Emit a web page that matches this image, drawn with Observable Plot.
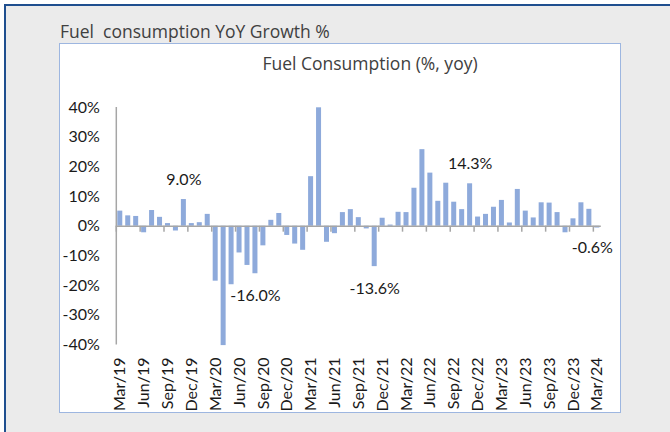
<!DOCTYPE html>
<html>
<head>
<meta charset="utf-8">
<script src="https://cdn.jsdelivr.net/npm/d3@7"></script>
<script src="https://cdn.jsdelivr.net/npm/@observablehq/plot@0.6"></script>
<style>
  html, body { margin: 0; padding: 0; }
  body { width: 670px; height: 432px; position: relative; overflow: hidden; background: #ffffff; font-family: Lato, "Noto Sans", sans-serif; }
  #outer { position: absolute; left: 4px; top: 3.5px; width: 700px; height: 460px; background: #ebebeb; border-left: 2.5px solid #1f4f8f; border-top: 2.5px solid #1f4f8f; }
  #panel { position: absolute; left: 59px; top: 43px; width: 560px; height: 368px; background: #ffffff; border: 1.5px solid #9db6e0; }
  #title { position: absolute; left: 60px; top: 20px; font-family: "Open Sans", Lato, sans-serif; font-size: 17.5px; line-height: 22px; color: #404040; white-space: pre; font-variant-ligatures: none; }
  #subtitle { position: absolute; left: 370px; top: 52px; transform: translateX(-50%); font-family: "Open Sans", Lato, sans-serif; font-size: 17.5px; line-height: 22px; color: #404040; white-space: pre; font-variant-ligatures: none; }
  #chart { position: absolute; left: 0; top: 0; }
</style>
</head>
<body>
<div id="outer"></div>
<div id="panel"></div>
<div id="title">Fuel  consumption YoY Growth %</div>
<div id="subtitle">Fuel Consumption (%, yoy)</div>
<div id="chart"></div>
<script>
// Months Mar/19 .. Mar/24
const months = [
  "Mar/19","Apr/19","May/19","Jun/19","Jul/19","Aug/19","Sep/19","Oct/19","Nov/19","Dec/19",
  "Jan/20","Feb/20","Mar/20","Apr/20","May/20","Jun/20","Jul/20","Aug/20","Sep/20","Oct/20","Nov/20","Dec/20",
  "Jan/21","Feb/21","Mar/21","Apr/21","May/21","Jun/21","Jul/21","Aug/21","Sep/21","Oct/21","Nov/21","Dec/21",
  "Jan/22","Feb/22","Mar/22","Apr/22","May/22","Jun/22","Jul/22","Aug/22","Sep/22","Oct/22","Nov/22","Dec/22",
  "Jan/23","Feb/23","Mar/23","Apr/23","May/23","Jun/23","Jul/23","Aug/23","Sep/23","Oct/23","Nov/23","Dec/23",
  "Jan/24","Feb/24","Mar/24"
];
// YoY growth, %
const growth = [
  5.1, 3.5, 3.3, -2.2, 5.3, 3.0, 0.9, -1.6, 9.0, 0.9,
  1.2, 4.0, -18.5, -40.2, -19.7, -9.0, -13.2, -16.0, -6.6, 2.0, 4.3, -3.1,
  -6.0, -8.1, 16.7, 39.9, -5.4, -2.5, 4.6, 5.6, 2.9, -0.9, -13.6, 2.7,
  0.4, 4.7, 4.6, 12.8, 25.8, 17.9, 8.4, 14.5, 8.1, 5.6, 14.3, 3.1,
  4.0, 6.4, 8.7, 1.1, 12.4, 5.1, 2.8, 7.9, 7.8, 4.6, -2.2, 2.5,
  7.9, 5.7, -0.6
];
// Labelled points
const labelMonths = ["Nov/19", "Aug/20", "Nov/21", "Nov/22", "Mar/24"];
const labelTexts = ["9.0%", "-16.0%", "-13.6%", "14.3%", "-0.6%"];
// Axis ticks
const yTicks = [-40, -30, -20, -10, 0, 10, 20, 30, 40];
const xTicks = months.filter((d, i) => i % 3 === 0);

const data = months.map((m, i) => ({month: m, value: growth[i]}));
const labels = labelMonths.map((m, i) => ({month: m, value: growth[months.indexOf(m)], text: labelTexts[i]}));

const W = 670, H = 432;
const mL = 115.8, mR = 69.2, mT = 107, mB = 87.5;
const step = (W - mL - mR) / months.length;
const axisColor = "#a6a6a6";
const textColor = "#1a1a1a";

const chart = Plot.plot({
  width: W,
  height: H,
  marginLeft: mL,
  marginRight: mR,
  marginTop: mT,
  marginBottom: mB,
  style: {background: "transparent", fontFamily: "Lato, 'Noto Sans', sans-serif", fontSize: "16px", color: textColor, overflow: "visible"},
  x: {type: "band", domain: months, paddingInner: 0.37, paddingOuter: 0.185, axis: null},
  y: {domain: [-40, 40], axis: null},
  marks: [
    Plot.barY(data, {x: "month", y: "value", fill: "#8eaadb"}),
    Plot.ruleY([0], {stroke: axisColor, strokeWidth: 1.5}),
    Plot.ruleX([months[0]], {x: d => d, y1: -40, y2: 40, dx: -step / 2, stroke: axisColor, strokeWidth: 1.5}),
    Plot.ruleX(xTicks, {x: d => d, y1: 0, y2: -2, dx: -step / 2, stroke: axisColor, strokeWidth: 1.5}),
    Plot.axisY({ticks: yTicks, tickFormat: d => d + "%", tickSize: 0, tickPadding: 16.5, label: null, fontSize: 16, fill: textColor}),
    Plot.axisX({ticks: xTicks, tickRotate: -90, tickSize: 0, tickPadding: 12.5, label: null, fontSize: 16, fill: textColor}),
    Plot.text(labels.filter(d => d.value >= 0), {x: "month", y: "value", text: "text", dy: -20, fontSize: 16, fill: textColor}),
    Plot.text(labels.filter(d => d.value < 0 && d.month !== months[months.length - 1]), {x: "month", y: "value", text: "text", dy: 22, fontSize: 16, fill: textColor}),
    Plot.text(labels.filter(d => d.month === months[months.length - 1]), {x: "month", y: "value", text: "text", dy: 20, dx: -5, fontSize: 16, fill: textColor})
  ]
});
document.getElementById("chart").appendChild(chart);
</script>
</body>
</html>
